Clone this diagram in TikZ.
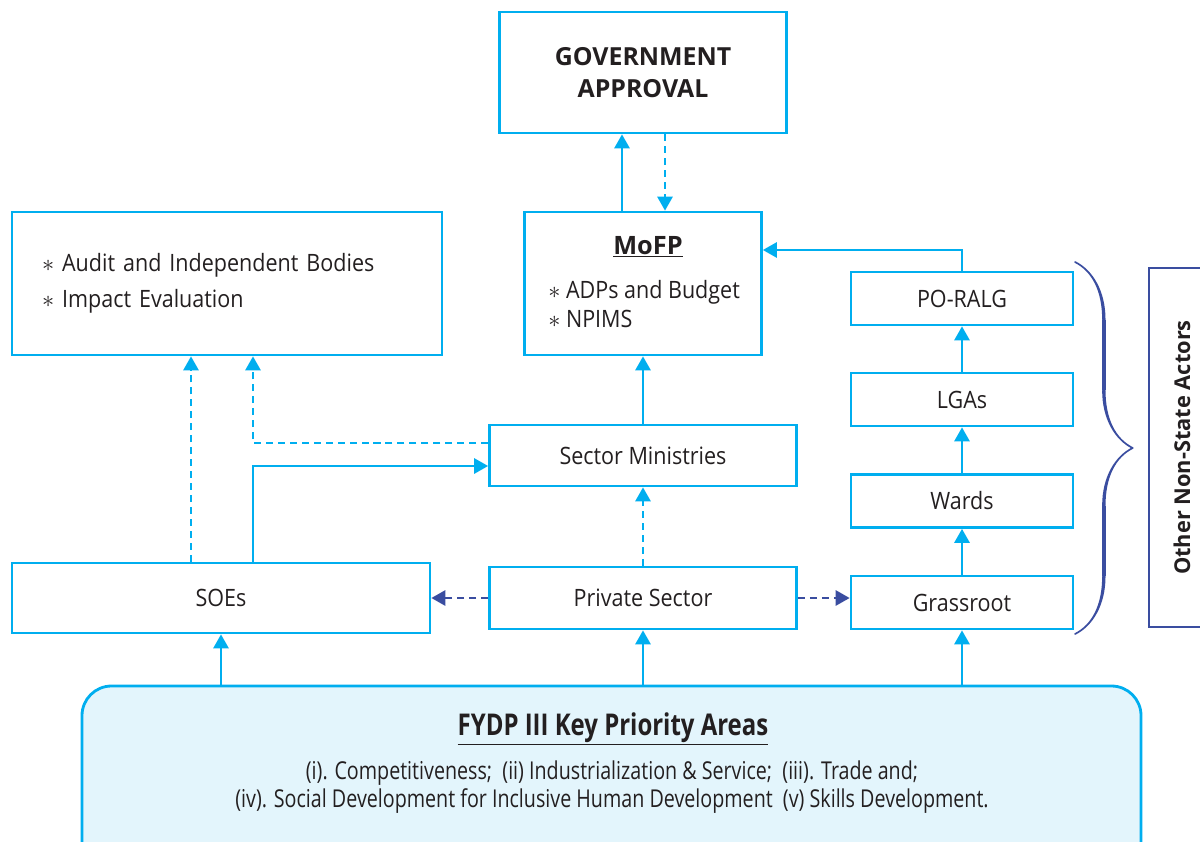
\documentclass[tikz,border=0pt]{standalone}
\usepackage{fontspec}
\setmainfont{Open Sans}[FakeStretch=0.9]
\newfontfamily\headfont{Open Sans}
\newfontfamily\narrowfont{Open Sans}[FakeStretch=0.8]
\usetikzlibrary{arrows.meta,calc,decorations.pathreplacing,calligraphy}
\definecolor{lineblue}{HTML}{00AEEF}
\definecolor{darkblue}{HTML}{3A4DA0}
\definecolor{panelfill}{HTML}{E3F5FC}
\definecolor{ink}{HTML}{231F20}
\newcommand{\pu}{0.025cm}

\begin{document}
\begin{tikzpicture}[x=\pu, y=-\pu, font=\fontsize{17}{20}\selectfont, text=ink,
    box/.style={draw=lineblue, line width=2pt, inner sep=0pt},
    link/.style={draw=lineblue, line width=1.3pt, -{Triangle[width=11pt,length=10pt]}},
    dlink/.style={link, dash pattern=on 5pt off 3.5pt},
    side/.style={draw=darkblue, line width=1.3pt, dash pattern=on 5pt off 3.5pt, -{Triangle[width=11pt,length=10pt,fill=darkblue]}}]

    \useasboundingbox (0,0) rectangle (1200,841);

    % Top: approval and finance
    \node (gov) at (643,72.5) [box, minimum width=287*\pu, minimum height=121*\pu, align=center, font=\headfont\bfseries\fontsize{17.7}{23}\selectfont] {GOVERNMENT\\APPROVAL};
    \node (audit) at (227,283.5) [box, minimum width=430*\pu, minimum height=143*\pu, text width=370*\pu, align=left, font=\fontsize{17}{25.6}\selectfont] {$\ast$ Audit and Independent Bodies\\$\ast$ Impact Evaluation};
    \node (mofp) at (643,283.5) [box, minimum width=237*\pu, minimum height=143*\pu] {};
    \node (mofptitle) at (648,247) [font=\headfont\bfseries\fontsize{18}{20}\selectfont] {\underline{MoFP}};
    \node (mofplist) at (548,304) [anchor=west, align=left, inner sep=0pt, font=\fontsize{17}{20}\selectfont] {$\ast$ ADPs and Budget\\$\ast$ NPIMS};

    % Local government chain
    \foreach \n/\t/\y in {poralg/PO-RALG/298.5, lgas/LGAs/399.5, wards/Wards/501, grass/Grassroot/602.5}
        \node (\n) at (962,\y) [box, minimum width=222*\pu, minimum height=53*\pu] {\t};

    % Ministries, SOEs and private sector
    \node (sector) at (643,455.5) [box, minimum width=307*\pu, minimum height=61*\pu] {Sector Ministries};
    \node (private) at (643,598) [box, minimum width=307*\pu, minimum height=62*\pu] {Private Sector};
    \node (soes) at (221,598) [box, minimum width=418*\pu, minimum height=70*\pu] {SOEs};

    % Bottom panel
    \node (kpa) at (611.5,778) [box, fill=panelfill, rounded corners=21pt, minimum width=1059*\pu, minimum height=184*\pu] {};
    \node (kpatitle) at (613,729) [font=\narrowfont\bfseries\fontsize{21.3}{24}\selectfont] {\underline{FYDP III Key Priority Areas}};
    \node (kpalist) at (612,787) [align=center, font=\narrowfont\fontsize{17.5}{20}\selectfont] {(i). Competitiveness;~ (ii) Industrialization \& Service;~ (iii). Trade and;\\(iv). Social Development for Inclusive Human Development~ (v) Skills Development.};

    % Non-state actors
    \node (nsa) at (1182,447.5) [draw=darkblue, line width=1.5pt, rotate=90, minimum width=359*\pu, minimum height=66*\pu, font=\headfont\bfseries\fontsize{15.5}{18}\selectfont] {Other Non-State Actors};

    % Connectors
    \draw[link] ($(mofp.north)+(-21,0)$) -- ($(gov.south)+(-21,0)$);
    \draw[dlink] ($(gov.south)+(22,0)$) -- ($(mofp.north)+(22,0)$);
    \draw[link] (sector.north) -- (mofp.south);
    \draw[dlink] (private.north) -- (sector.south);
    \draw[link] (poralg.north) |- ($(mofp.east)+(0,-33.5)$);
    \draw[link] (lgas.north) -- (poralg.south);
    \draw[link] (wards.north) -- (lgas.south);
    \draw[link] (grass.north) -- (wards.south);
    \draw[dlink] ($(soes.north)+(-30,0)$) -- ($(audit.south)+(-36,0)$);
    \draw[dlink] ($(sector.west)+(0,-12.5)$) -| ($(audit.south)+(26,0)$);
    \draw[link] ($(soes.north)+(32,0)$) |- ($(sector.west)+(0,10.5)$);
    \draw[side] (private.west) -- (soes.east);
    \draw[side] (private.east) -- (private.east -| grass.west);
    \draw[link] (soes.south |- kpa.north) -- (soes.south);
    \draw[link] (private.south |- kpa.north) -- (private.south);
    \draw[link] (grass.south |- kpa.north) -- (grass.south);

    % Brace round the local chain
    \begin{scope}
        \draw[darkblue, pen colour={darkblue}, line width=2.4pt, decorate, decoration={calligraphic brace, amplitude=41pt}] (1075,262) -- (1075,634);
    \end{scope}

\end{tikzpicture}
\end{document}
